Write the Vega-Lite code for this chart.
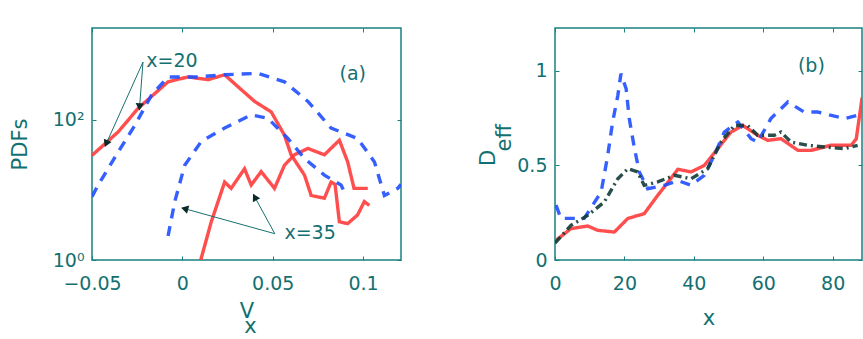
{
  "$schema": "https://vega.github.io/schema/vega-lite/v6.json",
  "autosize": {"type": "pad"},
  "padding": {"left": 8, "top": 26, "right": 0, "bottom": 0},
  "bounds": "flush",
  "spacing": 154,
  "background": "white",
  "config": {
    "font": "DejaVu Sans",
    "view": {"stroke": "#1a8080", "strokeWidth": 1.5},
    "axis": {
      "domain": false,
      "grid": false,
      "tickSize": -4,
      "tickColor": "#1a8080",
      "tickWidth": 1,
      "labelFont": "DejaVu Sans",
      "labelFontSize": 19,
      "labelColor": "#137070",
      "titleFont": "DejaVu Sans",
      "titleFontSize": 21,
      "titleFontWeight": "normal",
      "titleColor": "#137070",
      "labelFlush": false,
      "labelOverlap": false
    },
    "text": {"font": "DejaVu Sans", "fontSize": 19, "color": "#137070"}
  },
  "datasets": {
    "pdf": [
      {"curve": "r20", "s": "red", "vx": -0.05, "p": 31},
      {"curve": "r20", "s": "red", "vx": -0.0355, "p": 67},
      {"curve": "r20", "s": "red", "vx": -0.0245, "p": 145},
      {"curve": "r20", "s": "red", "vx": -0.0079, "p": 347},
      {"curve": "r20", "s": "red", "vx": 0.0031, "p": 407},
      {"curve": "r20", "s": "red", "vx": 0.0142, "p": 372},
      {"curve": "r20", "s": "red", "vx": 0.0234, "p": 437},
      {"curve": "r20", "s": "red", "vx": 0.0308, "p": 295},
      {"curve": "r20", "s": "red", "vx": 0.04, "p": 182},
      {"curve": "r20", "s": "red", "vx": 0.0492, "p": 129},
      {"curve": "r20", "s": "red", "vx": 0.0565, "p": 60},
      {"curve": "r20", "s": "red", "vx": 0.0602, "p": 31.6},
      {"curve": "r20", "s": "red", "vx": 0.0676, "p": 16.2},
      {"curve": "r20", "s": "red", "vx": 0.0713, "p": 8.3},
      {"curve": "r20", "s": "red", "vx": 0.0786, "p": 7.6},
      {"curve": "r20", "s": "red", "vx": 0.0823, "p": 12.9},
      {"curve": "r20", "s": "red", "vx": 0.0845, "p": 12.0},
      {"curve": "r20", "s": "red", "vx": 0.0869, "p": 3.5},
      {"curve": "r20", "s": "red", "vx": 0.0915, "p": 3.3},
      {"curve": "r20", "s": "red", "vx": 0.097, "p": 4.4},
      {"curve": "r20", "s": "red", "vx": 0.1007, "p": 6.8},
      {"curve": "r20", "s": "red", "vx": 0.1035, "p": 6.0},
      {"curve": "r35", "s": "red", "vx": 0.0078, "p": 0.6},
      {"curve": "r35", "s": "red", "vx": 0.016, "p": 3.5},
      {"curve": "r35", "s": "red", "vx": 0.0234, "p": 12.9},
      {"curve": "r35", "s": "red", "vx": 0.027, "p": 10.5},
      {"curve": "r35", "s": "red", "vx": 0.0344, "p": 20},
      {"curve": "r35", "s": "red", "vx": 0.0381, "p": 11.7},
      {"curve": "r35", "s": "red", "vx": 0.0436, "p": 18.2},
      {"curve": "r35", "s": "red", "vx": 0.051, "p": 10.5},
      {"curve": "r35", "s": "red", "vx": 0.0565, "p": 22.4},
      {"curve": "r35", "s": "red", "vx": 0.062, "p": 31.6},
      {"curve": "r35", "s": "red", "vx": 0.0695, "p": 38.9},
      {"curve": "r35", "s": "red", "vx": 0.0786, "p": 31.6},
      {"curve": "r35", "s": "red", "vx": 0.0869, "p": 51},
      {"curve": "r35", "s": "red", "vx": 0.0915, "p": 25},
      {"curve": "r35", "s": "red", "vx": 0.095, "p": 10.5},
      {"curve": "r35", "s": "red", "vx": 0.1026, "p": 10.5},
      {"curve": "b20", "s": "blue", "vx": -0.05, "p": 8},
      {"curve": "b20", "s": "blue", "vx": -0.0466, "p": 11.7},
      {"curve": "b20", "s": "blue", "vx": -0.0355, "p": 34.7},
      {"curve": "b20", "s": "blue", "vx": -0.0263, "p": 83},
      {"curve": "b20", "s": "blue", "vx": -0.0171, "p": 224},
      {"curve": "b20", "s": "blue", "vx": -0.0079, "p": 407},
      {"curve": "b20", "s": "blue", "vx": 0.0087, "p": 407},
      {"curve": "b20", "s": "blue", "vx": 0.0234, "p": 437},
      {"curve": "b20", "s": "blue", "vx": 0.0418, "p": 457},
      {"curve": "b20", "s": "blue", "vx": 0.0565, "p": 347},
      {"curve": "b20", "s": "blue", "vx": 0.0695, "p": 182},
      {"curve": "b20", "s": "blue", "vx": 0.0823, "p": 76},
      {"curve": "b20", "s": "blue", "vx": 0.097, "p": 54},
      {"curve": "b20", "s": "blue", "vx": 0.1063, "p": 25},
      {"curve": "b20", "s": "blue", "vx": 0.1118, "p": 8.3},
      {"curve": "b20", "s": "blue", "vx": 0.1192, "p": 10.5},
      {"curve": "b20", "s": "blue", "vx": 0.121, "p": 12},
      {"curve": "b35", "s": "blue", "vx": -0.0079, "p": 2.2},
      {"curve": "b35", "s": "blue", "vx": -0.0042, "p": 6.8},
      {"curve": "b35", "s": "blue", "vx": 0.0013, "p": 22.4},
      {"curve": "b35", "s": "blue", "vx": 0.0105, "p": 49},
      {"curve": "b35", "s": "blue", "vx": 0.0234, "p": 76},
      {"curve": "b35", "s": "blue", "vx": 0.0381, "p": 117},
      {"curve": "b35", "s": "blue", "vx": 0.0473, "p": 105},
      {"curve": "b35", "s": "blue", "vx": 0.0584, "p": 54},
      {"curve": "b35", "s": "blue", "vx": 0.0676, "p": 28},
      {"curve": "b35", "s": "blue", "vx": 0.0786, "p": 16.2},
      {"curve": "b35", "s": "blue", "vx": 0.0878, "p": 11.7},
      {"curve": "b35", "s": "blue", "vx": 0.0897, "p": 9.3}
    ],
    "arrows": [
      {"id": 1, "fx": -0.02178, "fy": 664, "tx": -0.04213, "ty": 45.5},
      {"id": 2, "fx": -0.02178, "fy": 664, "tx": -0.02367, "ty": 152},
      {"id": 3, "fx": 0.05116, "fy": 2.37, "tx": 0.00127, "ty": 5.39},
      {"id": 4, "fx": 0.05116, "fy": 2.37, "tx": 0.04008, "ty": 7.91}
    ],
    "labelsA": [
      {"label": "x=20", "vx": -0.01996, "p": 687},
      {"label": "x=35", "vx": 0.0565, "p": 2.39},
      {"label": "(a)", "vx": 0.087, "p": 441}
    ],
    "deff": [
      {"s": "red", "x": 0, "d": 0.1},
      {"s": "red", "x": 4.6, "d": 0.166},
      {"s": "red", "x": 9.4, "d": 0.18},
      {"s": "red", "x": 12.3, "d": 0.157},
      {"s": "red", "x": 17.1, "d": 0.148},
      {"s": "red", "x": 21, "d": 0.22},
      {"s": "red", "x": 25.7, "d": 0.245},
      {"s": "red", "x": 29.6, "d": 0.342},
      {"s": "red", "x": 32.5, "d": 0.41},
      {"s": "red", "x": 35.4, "d": 0.48},
      {"s": "red", "x": 39.2, "d": 0.466},
      {"s": "red", "x": 43, "d": 0.5},
      {"s": "red", "x": 46.9, "d": 0.589},
      {"s": "red", "x": 50.7, "d": 0.677},
      {"s": "red", "x": 54.1, "d": 0.712},
      {"s": "red", "x": 58.4, "d": 0.66},
      {"s": "red", "x": 61.3, "d": 0.633},
      {"s": "red", "x": 65.1, "d": 0.642},
      {"s": "red", "x": 70, "d": 0.58},
      {"s": "red", "x": 73.8, "d": 0.58},
      {"s": "red", "x": 79.5, "d": 0.607},
      {"s": "red", "x": 85.3, "d": 0.607},
      {"s": "red", "x": 86.8, "d": 0.64},
      {"s": "red", "x": 88.5, "d": 0.86},
      {"s": "blue", "x": 0.3, "d": 0.29},
      {"s": "blue", "x": 1.7, "d": 0.22},
      {"s": "blue", "x": 8.4, "d": 0.22},
      {"s": "blue", "x": 13.3, "d": 0.36},
      {"s": "blue", "x": 15.2, "d": 0.554},
      {"s": "blue", "x": 16.6, "d": 0.73},
      {"s": "blue", "x": 18.1, "d": 0.87},
      {"s": "blue", "x": 19, "d": 0.986},
      {"s": "blue", "x": 20.5, "d": 0.906},
      {"s": "blue", "x": 21.4, "d": 0.748},
      {"s": "blue", "x": 22.9, "d": 0.589},
      {"s": "blue", "x": 24.3, "d": 0.466},
      {"s": "blue", "x": 26.7, "d": 0.377},
      {"s": "blue", "x": 31.5, "d": 0.395},
      {"s": "blue", "x": 35.5, "d": 0.42},
      {"s": "blue", "x": 39.2, "d": 0.395},
      {"s": "blue", "x": 43, "d": 0.448},
      {"s": "blue", "x": 45.9, "d": 0.554},
      {"s": "blue", "x": 48.8, "d": 0.677},
      {"s": "blue", "x": 52.7, "d": 0.73},
      {"s": "blue", "x": 56.5, "d": 0.642},
      {"s": "blue", "x": 58.4, "d": 0.624},
      {"s": "blue", "x": 62.2, "d": 0.748},
      {"s": "blue", "x": 67.1, "d": 0.836},
      {"s": "blue", "x": 71.8, "d": 0.783},
      {"s": "blue", "x": 75.7, "d": 0.783},
      {"s": "blue", "x": 83.4, "d": 0.748},
      {"s": "blue", "x": 87.2, "d": 0.766},
      {"s": "black", "x": 0, "d": 0.09},
      {"s": "black", "x": 4.6, "d": 0.183},
      {"s": "black", "x": 9.4, "d": 0.236},
      {"s": "black", "x": 14.2, "d": 0.307},
      {"s": "black", "x": 18.1, "d": 0.43},
      {"s": "black", "x": 21, "d": 0.483},
      {"s": "black", "x": 23.8, "d": 0.466},
      {"s": "black", "x": 25.7, "d": 0.395},
      {"s": "black", "x": 29.6, "d": 0.413},
      {"s": "black", "x": 34.4, "d": 0.448},
      {"s": "black", "x": 39.2, "d": 0.43},
      {"s": "black", "x": 44, "d": 0.483},
      {"s": "black", "x": 47.8, "d": 0.624},
      {"s": "black", "x": 51.7, "d": 0.712},
      {"s": "black", "x": 55.5, "d": 0.712},
      {"s": "black", "x": 58.4, "d": 0.66},
      {"s": "black", "x": 63.2, "d": 0.66},
      {"s": "black", "x": 65.1, "d": 0.677},
      {"s": "black", "x": 68, "d": 0.624},
      {"s": "black", "x": 72.8, "d": 0.607},
      {"s": "black", "x": 77.6, "d": 0.598},
      {"s": "black", "x": 83.4, "d": 0.589},
      {"s": "black", "x": 87.2, "d": 0.607}
    ],
    "labelsB": [
      {"label": "(b)", "x": 70, "d": 1.026}
    ]
  },
  "hconcat": [
    {
      "width": 309,
      "height": 232,
      "resolve": {"axis": {"x": "independent", "y": "independent"}},
      "layer": [
        {
          "data": {"name": "pdf"},
          "mark": {"type": "line", "strokeWidth": 3.4, "clip": true, "opacity": 0.9},
          "encoding": {
            "x": {
              "field": "vx", "type": "quantitative",
              "scale": {"domain": [-0.05, 0.121], "nice": false, "zero": false},
              "axis": {"orient": "bottom", "values": [-0.05, 0, 0.05, 0.1], "format": "~g", "labelPadding": 18, "title": ["V", "\u200b\u00a0x"], "titleLineHeight": 15, "titlePadding": 7}
            },
            "y": {
              "field": "p", "type": "quantitative",
              "scale": {"type": "log", "domain": [1, 2028], "nice": false},
              "axis": {"orient": "left", "values": [1, 100], "labelExpr": "datum.value == 1 ? '10⁰' : '10²'", "labelPadding": 12, "title": "PDFs", "titlePadding": 22}
            },
            "color": {"field": "s", "type": "nominal", "scale": {"domain": ["red", "blue", "black"], "range": ["#ff3b3b", "#1f4fff", "#123c38"]}, "legend": null},
            "strokeDash": {"field": "s", "type": "nominal", "scale": {"domain": ["red", "blue", "black"], "range": [[1, 0], [10, 8], [8, 4, 2, 4]]}, "legend": null},
            "detail": {"field": "curve"}
          }
        },
        {
          "data": {"name": "arrows"},
          "mark": {"type": "point", "opacity": 0},
          "encoding": {
            "x": {"field": "fx", "type": "quantitative", "axis": {"orient": "top", "values": [-0.05, 0, 0.05, 0.1], "labels": false, "title": null}},
            "y": {"field": "fy", "type": "quantitative", "axis": {"orient": "right", "values": [1, 100], "labels": false, "title": null}}
          }
        },
        {
          "data": {"name": "arrows"},
          "mark": {"type": "rule", "color": "#1a7070", "strokeWidth": 1},
          "encoding": {
            "x": {"field": "fx", "type": "quantitative", "axis": null},
            "y": {"field": "fy", "type": "quantitative", "axis": null},
            "x2": {"field": "tx"},
            "y2": {"field": "ty"}
          }
        },
        {
          "data": {"name": "arrows"},
          "transform": [{"filter": "datum.id == 1"}],
          "mark": {"type": "point", "shape": "triangle-up", "filled": true, "color": "#0a2a2a", "opacity": 1, "size": 70, "angle": 204},
          "encoding": {"x": {"field": "tx", "type": "quantitative", "axis": null}, "y": {"field": "ty", "type": "quantitative", "axis": null}}
        },
        {
          "data": {"name": "arrows"},
          "transform": [{"filter": "datum.id == 2"}],
          "mark": {"type": "point", "shape": "triangle-up", "filled": true, "color": "#0a2a2a", "opacity": 1, "size": 70, "angle": 184},
          "encoding": {"x": {"field": "tx", "type": "quantitative", "axis": null}, "y": {"field": "ty", "type": "quantitative", "axis": null}}
        },
        {
          "data": {"name": "arrows"},
          "transform": [{"filter": "datum.id == 3"}],
          "mark": {"type": "point", "shape": "triangle-up", "filled": true, "color": "#0a2a2a", "opacity": 1, "size": 70, "angle": 285},
          "encoding": {"x": {"field": "tx", "type": "quantitative", "axis": null}, "y": {"field": "ty", "type": "quantitative", "axis": null}}
        },
        {
          "data": {"name": "arrows"},
          "transform": [{"filter": "datum.id == 4"}],
          "mark": {"type": "point", "shape": "triangle-up", "filled": true, "color": "#0a2a2a", "opacity": 1, "size": 70, "angle": 331},
          "encoding": {"x": {"field": "tx", "type": "quantitative", "axis": null}, "y": {"field": "ty", "type": "quantitative", "axis": null}}
        },
        {
          "data": {"name": "labelsA"},
          "mark": {"type": "text", "align": "left", "baseline": "middle"},
          "encoding": {
            "x": {"field": "vx", "type": "quantitative", "axis": null},
            "y": {"field": "p", "type": "quantitative", "axis": null},
            "text": {"field": "label"}
          }
        }
      ]
    },
    {
      "width": 307,
      "height": 232,
      "resolve": {"axis": {"x": "independent", "y": "independent"}},
      "layer": [
        {
          "data": {"name": "deff"},
          "mark": {"type": "line", "strokeWidth": 3.4, "clip": true, "opacity": 0.9},
          "encoding": {
            "x": {
              "field": "x", "type": "quantitative",
              "scale": {"domain": [0, 88.46], "nice": false, "zero": false},
              "axis": {"orient": "bottom", "values": [0, 20, 40, 60, 80], "labelPadding": 18, "title": "x", "titlePadding": 14}
            },
            "y": {
              "field": "d", "type": "quantitative",
              "scale": {"domain": [0, 1.2275], "nice": false},
              "axis": {"orient": "left", "values": [0, 0.5, 1], "format": "~g", "labelPadding": 12, "title": ["D\u00a0\u00a0\u00a0\u00a0\u200b", "\u200b\u00a0\u00a0eff"], "titleLineHeight": 16, "titlePadding": 2}
            },
            "color": {"field": "s", "type": "nominal", "scale": {"domain": ["red", "blue", "black"], "range": ["#ff3b3b", "#1f4fff", "#123c38"]}, "legend": null},
            "strokeDash": {"field": "s", "type": "nominal", "scale": {"domain": ["red", "blue", "black"], "range": [[1, 0], [10, 8], [8, 4, 2, 4]]}, "legend": null}
          }
        },
        {
          "data": {"name": "labelsB"},
          "mark": {"type": "point", "opacity": 0},
          "encoding": {
            "x": {"field": "x", "type": "quantitative", "axis": {"orient": "top", "values": [0, 20, 40, 60, 80], "labels": false, "title": null}},
            "y": {"field": "d", "type": "quantitative", "axis": {"orient": "right", "values": [0, 0.5, 1], "labels": false, "title": null}}
          }
        },
        {
          "data": {"name": "labelsB"},
          "mark": {"type": "text", "align": "left", "baseline": "middle"},
          "encoding": {
            "x": {"field": "x", "type": "quantitative", "axis": null},
            "y": {"field": "d", "type": "quantitative", "axis": null},
            "text": {"field": "label"}
          }
        }
      ]
    }
  ]
}
